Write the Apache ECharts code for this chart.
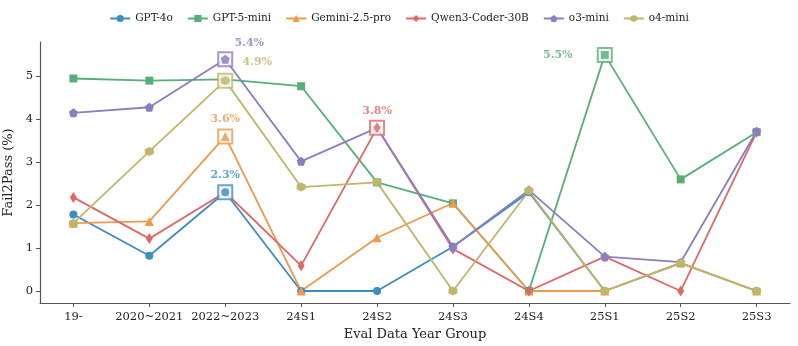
<!DOCTYPE html>
<html>
<head>
<meta charset="utf-8">
<script src="https://cdn.jsdelivr.net/npm/echarts@6/dist/echarts.min.js"></script>
<style>
html,body{margin:0;padding:0;background:#fff;}
#main{width:798px;height:346px;}
</style>
</head>
<body>
<div id="main"></div>
<script>
// 分组
const groups = ['19-', '2020~2021', '2022~2023', '24S1', '24S2', '24S3', '24S4', '25S1', '25S2', '25S3'];
// 各模型 Fail2Pass (%)
const models = ['GPT-4o', 'GPT-5-mini', 'Gemini-2.5-pro', 'Qwen3-Coder-30B', 'o3-mini', 'o4-mini'];
const gpt4o      = [1.78, 0.82, 2.3, 0, 0, 1.03, 2.3, 0, 0.65, 0];
const gpt5mini   = [4.95, 4.9, 4.93, 4.77, 2.53, 2.04, 0, 5.5, 2.6, 3.7];
const gemini25   = [1.58, 1.62, 3.6, 0, 1.24, 2.05, 0, 0, 0.65, 0];
const qwen3coder = [2.18, 1.22, 2.3, 0.59, 3.8, 0.98, 0, 0.8, 0, 3.7];
const o3mini     = [4.15, 4.28, 5.4, 3.02, 3.8, 1.03, 2.35, 0.8, 0.67, 3.72];
const o4mini     = [1.58, 3.25, 4.9, 2.42, 2.53, 0, 2.33, 0, 0.65, 0];
const yTicks = [0, 1, 2, 3, 4, 5];

const values = [gpt4o, gpt5mini, gemini25, qwen3coder, o3mini, o4mini];
const colors = ['#3d8cc4', '#58ae79', '#ee994c', '#de6868', '#8c7dc1', '#bdb66b'];
const pentagon = 'path://M0,-10L9.5,-3.1L5.9,8.1L-5.9,8.1L-9.5,-3.1Z';
const hexagon = 'path://M0,-10L8.7,-5L8.7,5L0,10L-8.7,5L-8.7,-5Z';
const symbols = ['circle', 'rect', 'triangle', 'diamond', pentagon, hexagon];
const symSizes = [8, 8, 9, [7, 11], 9, 9];
// 峰值标签偏移
const labelOffsets = [[0, -17], [-47, 0], [0, -17], [0, -17], [24, -16], [32, -18]];
const serif = 'DejaVu Serif';

const series = [];
values.forEach(function (arr, k) {
  const pts = arr.map(function (v, i) { return [i, v]; });
  series.push({
    name: models[k], type: 'line', data: pts, z: 2,
    symbol: symbols[k], symbolSize: symSizes[k], showAllSymbol: true,
    lineStyle: { width: 1.8, color: colors[k] },
    itemStyle: { color: colors[k] },
    emphasis: { disabled: true }, animation: false
  });
  let mi = 0;
  arr.forEach(function (v, i) { if (v > arr[mi]) mi = i; });
  const peak = [[mi, arr[mi]]];
  // 方框
  series.push({
    name: models[k] + '-box', type: 'scatter', data: peak, z: 3,
    symbol: 'rect', symbolSize: 14,
    itemStyle: { color: '#fff', borderColor: colors[k], borderWidth: 2 },
    label: {
      show: true, position: 'inside', offset: labelOffsets[k],
      formatter: function (p) { return p.value[1].toFixed(1) + '%'; },
      color: colors[k], fontFamily: serif, fontWeight: 'bold', fontSize: 11
    },
    emphasis: { disabled: true }, animation: false, silent: true
  });
  series.push({
    name: models[k] + '-mark', type: 'scatter', data: peak, z: 4,
    symbol: symbols[k], symbolSize: symSizes[k],
    itemStyle: { color: colors[k] },
    emphasis: { disabled: true }, animation: false, silent: true
  });
});

const myChart = echarts.init(document.getElementById('main'));
myChart.setOption({
  animation: false,
  color: colors,
  textStyle: { fontFamily: serif },
  legend: {
    data: models, top: 8, left: 'center', itemGap: 14,
    itemWidth: 20, itemHeight: 9,
    textStyle: { fontFamily: serif, fontSize: 10.5, color: '#222' }
  },
  grid: { left: 40, right: 8, top: 42, bottom: 43, containLabel: false, outerBoundsMode: 'none' },
  xAxis: {
    type: 'value', min: -0.44, max: 9.44,
    name: 'Eval Data Year Group', nameLocation: 'middle', nameGap: 22,
    nameTextStyle: { fontFamily: serif, fontSize: 13, color: '#222' },
    axisLine: { show: true, onZero: false, lineStyle: { color: '#555', width: 1.2 } },
    axisTick: { show: true, length: 4, customValues: groups.map(function (g, i) { return i; }), lineStyle: { color: '#555' } },
    axisLabel: {
      customValues: groups.map(function (g, i) { return i; }),
      formatter: function (v) { return groups[Math.round(v)]; },
      fontFamily: serif, fontSize: 11.5, color: '#222', margin: 8
    },
    splitLine: { show: false }
  },
  yAxis: {
    type: 'value', min: -0.28, max: 5.8,
    name: 'Fail2Pass (%)', nameLocation: 'middle', nameGap: 21, nameRotate: 90,
    nameTextStyle: { fontFamily: serif, fontSize: 13, color: '#222' },
    axisLine: { show: true, onZero: false, lineStyle: { color: '#555', width: 1.2 } },
    axisTick: { show: true, length: 4, customValues: yTicks, lineStyle: { color: '#555' } },
    axisLabel: { customValues: yTicks, fontFamily: serif, fontSize: 11.5, color: '#222', margin: 7 },
    splitLine: { show: false }
  },
  series: series
});
</script>
</body>
</html>
